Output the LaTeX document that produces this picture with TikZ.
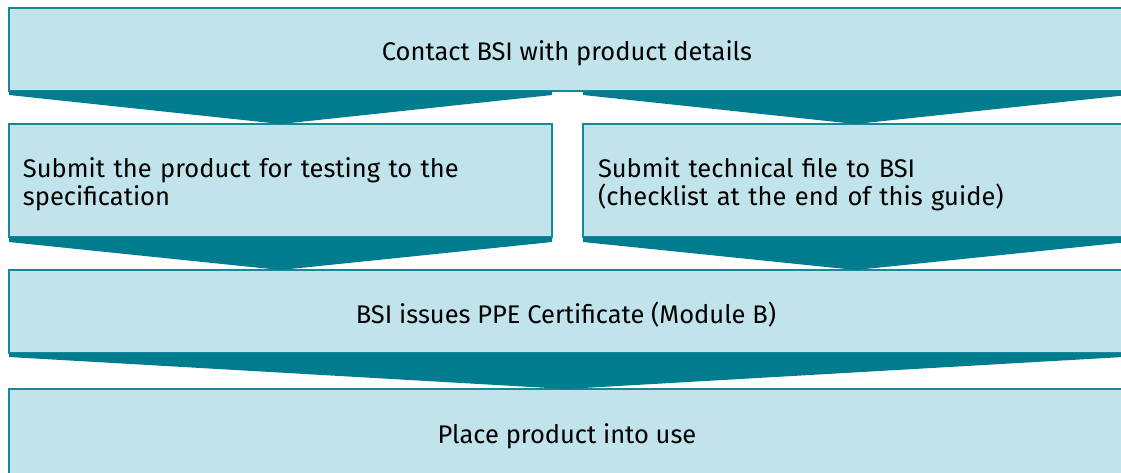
\documentclass[tikz,border=0pt]{standalone}
\usepackage{fontspec}
\setmainfont{Fira Sans}
\usetikzlibrary{calc}
\definecolor{lightbox}{RGB}{193,227,235}
\definecolor{tealdark}{RGB}{0,124,143}
\definecolor{tealline}{RGB}{22,137,152}
\newcommand{\lowstrut}{\rule{0pt}{27pt}}
\tikzset{
  box/.style={rectangle, fill=lightbox, draw=tealline, line width=2pt, outer sep=0pt,
    anchor=north west, font=\fontsize{25.5}{28}\selectfont, text=black},
  wedge/.style={fill=tealdark, draw=none}
}
\begin{document}
\begin{tikzpicture}[x=1pt,y=-1pt]
\useasboundingbox (0,0) rectangle (1121,472);
\clip (0,0) rectangle (1121,472);
% boxes
\node[box, minimum width=1116pt, minimum height=83pt] (b1) at (9,8) {\lowstrut Contact BSI with product details};
\node[box, minimum width=543pt, minimum height=113pt, text width=515pt, inner xsep=14pt, align=left] (b2) at (9,124)
  {\lowstrut Submit the product for testing to the\\specification};
\node[box, minimum width=545pt, minimum height=113pt, text width=515pt, inner xsep=15pt, align=left] (b3) at (583,124)
  {\lowstrut Submit technical file to BSI\\(checklist at the end of this guide)};
\node[box, minimum width=1114pt, minimum height=83pt] (b4) at (9,270) {\lowstrut BSI issues PPE Certificate (Module B)};
\node[box, minimum width=1116pt, minimum height=95pt] (b5) at (9,389) {Place product into use};
% wedges (arrows between boxes)
\fill[wedge] (b1.south -| b2.west) -- (b1.south -| b2.east) -- ([yshift=-4pt]b1.south -| b2.east)
  -- (b2.north) -- ([yshift=-4pt]b1.south -| b2.west) -- cycle;
\fill[wedge] (b1.south -| b3.west) -- (b1.south -| b3.east) -- ([yshift=-4pt]b1.south -| b3.east)
  -- (b3.north) -- ([yshift=-4pt]b1.south -| b3.west) -- cycle;
\fill[wedge] (b2.south west) -- (b2.south east) -- ([yshift=-5pt]b2.south east)
  -- (b4.north -| b2.south) -- ([yshift=-5pt]b2.south west) -- cycle;
\fill[wedge] (b3.south west) -- (b3.south east) -- ([yshift=-5pt]b3.south east)
  -- (b4.north -| b3.south) -- ([yshift=-5pt]b3.south west) -- cycle;
\fill[wedge] (b4.south west) -- (b4.south east) -- ([yshift=-4pt]b4.south east)
  -- (b5.north -| b4.south) -- ([yshift=-4pt]b4.south west) -- cycle;
\end{tikzpicture}
\end{document}
